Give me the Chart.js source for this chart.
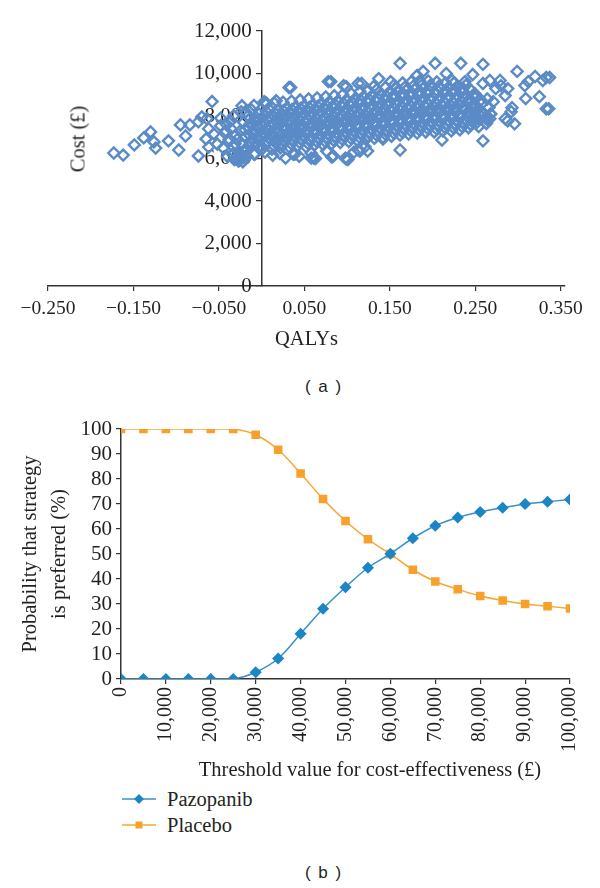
<!DOCTYPE html>
<html>
<head>
<meta charset="utf-8">
<script src="https://cdn.jsdelivr.net/npm/chart.js@4.4.0/dist/chart.umd.min.js"></script>
<style>
  body { margin: 0; background: #fff; }
  #page { position: relative; width: 600px; height: 888px; font-family: "Liberation Serif", "DejaVu Serif", serif; color: #231f20; }
  .box { position: absolute; left: 0; width: 600px; }
  .caption { position: absolute; font-family: "Liberation Sans", Arial, sans-serif; font-size: 17px; word-spacing: 3px; transform: translate(-50%, -50%); white-space: nowrap; }
  .label { position: absolute; font-family: "Liberation Serif", serif; font-size: 20.5px; white-space: nowrap; transform: translate(-50%, -50%); }
  .legend-item { position: absolute; left: 122px; height: 24px; display: flex; align-items: center; font-family: "Liberation Serif", serif; font-size: 20.5px; }
  .legend-item svg { margin-right: 11px; }
</style>
</head>
<body>
<div id="page">
  <div class="box" style="top:0; height:352px;"><canvas id="chartA"></canvas></div>
  <div class="label" style="left:78px; top:139px; transform: translate(-50%, -50%) rotate(-90deg);">Cost (£)</div>
  <div class="caption" style="left:323px; top:387px;">( a )</div>

  <div class="box" style="top:395px; height:370px;"><canvas id="chartB"></canvas></div>
  <div class="label" style="left:370px; top:769px;">Threshold value for cost-effectiveness (£)</div>
  <div id="legend"></div>
  <div class="caption" style="left:323px; top:873px;">( b )</div>
</div>

<script>
// (a) simulated incremental QALYs / costs
const simPoints = [
  // far left tail
  [-0.173, 6260], [-0.162, 6160], [-0.149, 6640], [-0.138, 6970], [-0.130, 7250], [-0.126, 6780],
  [-0.124, 6490], [-0.109, 6830], [-0.097, 6400], [-0.095, 7580], [-0.089, 7060], [-0.084, 7580],
  [-0.074, 7730], [-0.074, 6120], [-0.070, 7960], [-0.065, 6920], [-0.064, 7870], [-0.062, 7400],
  [-0.058, 8680], [-0.062, 6540], [-0.056, 7160], [-0.052, 6680], [-0.048, 7540], [-0.042, 7300],
  [-0.039, 6780], [-0.036, 7770], [-0.033, 6540], [-0.030, 5970], [-0.027, 5880], [-0.023, 8480],
  [-0.019, 8200], [-0.013, 7630], [-0.007, 7960], [-0.009, 6210], [0.003, 8670],
  // just left of zero
  [-0.048, 7900], [-0.045, 6500], [-0.043, 7200], [-0.040, 6100], [-0.041, 7600], [-0.038, 6900],
  [-0.036, 7400], [-0.034, 6200], [-0.033, 8000], [-0.031, 6700], [-0.030, 7100], [-0.032, 5950], [-0.029, 6050],
  [-0.027, 5900], [-0.024, 6000], [-0.022, 5850], [-0.026, 6300], [-0.023, 6700], [-0.025, 7300],
  [-0.021, 7700], [-0.024, 8200], [-0.020, 6400], [-0.019, 7000],
  [-0.017, 6100], [-0.015, 6600], [-0.014, 7100], [-0.016, 7500], [-0.013, 7900], [-0.012, 8300],
  [-0.011, 6900], [-0.010, 7300],
  [-0.008, 6200], [-0.006, 6700], [-0.005, 7000], [-0.004, 7400], [-0.007, 7800], [-0.003, 8100],
  [-0.002, 6500], [-0.001, 7600], [-0.009, 8500],
  [-0.0255, 6150], [-0.0215, 6050], [-0.0175, 6450], [-0.0135, 6800], [-0.0095, 7150], [-0.0055, 7500],
  [-0.0015, 7050], [-0.0035, 6850], [-0.0115, 7650], [-0.0195, 7350], [-0.0285, 6900],
  // main cloud
  [0.002, 6500], [0.006, 6800], [0.003, 7050], [0.008, 7300], [0.001, 7550], [0.007, 7800], [0.004, 8050], [0.009, 8300], [0.005, 8550], [0.010, 7150], [0.004, 6300],
  [0.012, 6450], [0.016, 6750], [0.013, 7000], [0.018, 7250], [0.011, 7500], [0.017, 7750], [0.014, 8000], [0.019, 8250], [0.015, 8600], [0.020, 6600], [0.013, 6150],
  [0.022, 6500], [0.026, 6800], [0.023, 7100], [0.028, 7350], [0.021, 7600], [0.027, 7850], [0.024, 8100], [0.029, 8350], [0.025, 8650], [0.030, 7000], [0.021, 6250],
  [0.032, 6550], [0.036, 6850], [0.033, 7100], [0.038, 7350], [0.031, 7650], [0.037, 7900], [0.034, 8150], [0.039, 8400], [0.035, 8700], [0.040, 7550], [0.037, 6200],
  [0.042, 6600], [0.046, 6900], [0.043, 7150], [0.048, 7400], [0.041, 7700], [0.047, 7950], [0.044, 8200], [0.049, 8450], [0.045, 8750], [0.050, 7250], [0.044, 6100],
  [0.052, 6550], [0.056, 6850], [0.053, 7150], [0.058, 7450], [0.051, 7700], [0.057, 8000], [0.054, 8250], [0.059, 8500], [0.055, 8800], [0.060, 7600], [0.058, 6250],
  [0.062, 6650], [0.066, 6950], [0.063, 7200], [0.068, 7500], [0.061, 7750], [0.067, 8050], [0.064, 8300], [0.069, 8550], [0.065, 8850], [0.070, 7350], [0.063, 6000],
  [0.072, 6650], [0.076, 6950], [0.073, 7250], [0.078, 7550], [0.071, 7800], [0.077, 8100], [0.074, 8350], [0.079, 8650], [0.075, 8900], [0.080, 7700], [0.076, 6350],
  [0.082, 6700], [0.086, 7000], [0.083, 7300], [0.088, 7600], [0.081, 7850], [0.087, 8150], [0.084, 8400], [0.089, 8700], [0.085, 8950], [0.090, 7450], [0.083, 6100],
  [0.092, 6750], [0.096, 7050], [0.093, 7350], [0.098, 7650], [0.091, 7900], [0.097, 8200], [0.094, 8450], [0.099, 8750], [0.095, 9000], [0.100, 7800], [0.101, 5950],
  [0.102, 6800], [0.106, 7100], [0.103, 7400], [0.108, 7700], [0.101, 7950], [0.107, 8250], [0.104, 8500], [0.109, 8800], [0.105, 9050], [0.110, 7550], [0.108, 6300],
  [0.112, 6850], [0.116, 7150], [0.113, 7450], [0.118, 7750], [0.111, 8000], [0.117, 8300], [0.114, 8600], [0.119, 8900], [0.115, 9150], [0.120, 7900], [0.113, 6400],
  [0.122, 6900], [0.126, 7200], [0.123, 7500], [0.128, 7800], [0.121, 8050], [0.127, 8350], [0.124, 8650], [0.129, 8950], [0.125, 9200], [0.130, 7650], [0.121, 6550],
  [0.132, 6950], [0.136, 7250], [0.133, 7550], [0.138, 7850], [0.131, 8100], [0.137, 8400], [0.134, 8700], [0.139, 9000], [0.135, 9250], [0.140, 8000],
  [0.142, 7000], [0.146, 7300], [0.143, 7600], [0.148, 7900], [0.141, 8200], [0.147, 8500], [0.144, 8800], [0.149, 9100], [0.145, 9350], [0.150, 7750],
  [0.152, 7050], [0.156, 7350], [0.153, 7650], [0.158, 7950], [0.151, 8250], [0.157, 8550], [0.154, 8850], [0.159, 9150], [0.155, 9450], [0.160, 8100],
  [0.162, 7100], [0.166, 7400], [0.163, 7700], [0.168, 8000], [0.161, 8300], [0.167, 8600], [0.164, 8900], [0.169, 9200], [0.165, 9550], [0.170, 7850],
  [0.172, 7150], [0.176, 7450], [0.173, 7750], [0.178, 8050], [0.171, 8350], [0.177, 8650], [0.174, 8950], [0.179, 9250], [0.175, 9600], [0.180, 8200],
  [0.182, 7200], [0.186, 7500], [0.183, 7800], [0.188, 8100], [0.181, 8400], [0.187, 8700], [0.184, 9000], [0.189, 9300], [0.185, 9650], [0.190, 7950],
  [0.192, 7250], [0.196, 7550], [0.193, 7850], [0.198, 8150], [0.191, 8450], [0.197, 8750], [0.194, 9050], [0.199, 9350], [0.195, 9650], [0.200, 8300],
  [0.202, 7250], [0.206, 7550], [0.203, 7850], [0.208, 8150], [0.201, 8450], [0.207, 8750], [0.204, 9050], [0.209, 9300], [0.205, 9600], [0.210, 8000],
  [0.212, 7300], [0.216, 7600], [0.213, 7900], [0.218, 8200], [0.211, 8500], [0.217, 8800], [0.214, 9100], [0.219, 9350], [0.215, 9550], [0.220, 8350],
  [0.222, 7300], [0.226, 7600], [0.223, 7900], [0.228, 8200], [0.221, 8500], [0.227, 8800], [0.224, 9100], [0.229, 9350], [0.225, 9550], [0.230, 8050],
  [0.232, 7350], [0.236, 7650], [0.233, 7950], [0.238, 8250], [0.231, 8550], [0.237, 8850], [0.234, 9150], [0.239, 9450], [0.235, 8400], [0.240, 7800],
  [0.242, 7450], [0.246, 7750], [0.243, 8050], [0.248, 8350], [0.241, 8650], [0.247, 8950], [0.244, 9250], [0.249, 8150], [0.245, 7600],
  [0.252, 7700], [0.256, 8000], [0.253, 8300], [0.258, 8600], [0.251, 8900], [0.257, 8150], [0.254, 7500],
  [0.262, 7900], [0.266, 8400], [0.264, 8800], [0.268, 8100], [0.263, 7650],
  // dense core of the cloud
  [0.0045, 6650], [0.0085, 6950], [0.0015, 7200], [0.0065, 7450], [0.0035, 7700], [0.0095, 7950], [0.0055, 8200],
  [0.0145, 6600], [0.0185, 6900], [0.0115, 7150], [0.0165, 7400], [0.0135, 7650], [0.0195, 7900], [0.0155, 8150],
  [0.0245, 6650], [0.0285, 6950], [0.0215, 7250], [0.0265, 7500], [0.0235, 7750], [0.0295, 8000], [0.0255, 8250],
  [0.0345, 6700], [0.0385, 7000], [0.0315, 7250], [0.0365, 7500], [0.0335, 7800], [0.0395, 8050], [0.0355, 8300],
  [0.0445, 6750], [0.0485, 7050], [0.0415, 7300], [0.0465, 7550], [0.0435, 7850], [0.0495, 8100], [0.0455, 8350],
  [0.0545, 6700], [0.0585, 7000], [0.0515, 7300], [0.0565, 7600], [0.0535, 7850], [0.0595, 8150], [0.0555, 8400],
  [0.0645, 6800], [0.0685, 7100], [0.0615, 7350], [0.0665, 7650], [0.0635, 7900], [0.0695, 8200], [0.0655, 8450],
  [0.0745, 6800], [0.0785, 7100], [0.0715, 7400], [0.0765, 7700], [0.0735, 7950], [0.0795, 8250], [0.0755, 8500],
  [0.0845, 6850], [0.0885, 7150], [0.0815, 7450], [0.0865, 7750], [0.0835, 8000], [0.0895, 8300], [0.0855, 8550],
  [0.0945, 6900], [0.0985, 7200], [0.0915, 7500], [0.0965, 7800], [0.0935, 8050], [0.0995, 8350], [0.0955, 8600],
  [0.1045, 6950], [0.1085, 7250], [0.1015, 7550], [0.1065, 7850], [0.1035, 8100], [0.1095, 8400], [0.1055, 8650],
  [0.1145, 7000], [0.1185, 7300], [0.1115, 7600], [0.1165, 7900], [0.1135, 8150], [0.1195, 8450], [0.1155, 8750],
  [0.1245, 7050], [0.1285, 7350], [0.1215, 7650], [0.1265, 7950], [0.1235, 8200], [0.1295, 8500], [0.1255, 8800],
  [0.1345, 7100], [0.1385, 7400], [0.1315, 7700], [0.1365, 8000], [0.1335, 8250], [0.1395, 8550], [0.1355, 8850],
  [0.1445, 7150], [0.1485, 7450], [0.1415, 7750], [0.1465, 8050], [0.1435, 8350], [0.1495, 8650], [0.1455, 8950],
  [0.1545, 7200], [0.1585, 7500], [0.1515, 7800], [0.1565, 8100], [0.1535, 8400], [0.1595, 8700], [0.1555, 9000], [0.1575, 9300],
  [0.1645, 7250], [0.1685, 7550], [0.1615, 7850], [0.1665, 8150], [0.1635, 8450], [0.1695, 8750], [0.1655, 9050], [0.1675, 9350],
  [0.1745, 7300], [0.1785, 7600], [0.1715, 7900], [0.1765, 8200], [0.1735, 8500], [0.1795, 8800], [0.1755, 9100], [0.1775, 9400],
  [0.1845, 7350], [0.1885, 7650], [0.1815, 7950], [0.1865, 8250], [0.1835, 8550], [0.1895, 8850], [0.1855, 9150], [0.1875, 9450],
  [0.1945, 7400], [0.1985, 7700], [0.1915, 8000], [0.1965, 8300], [0.1935, 8600], [0.1995, 8900], [0.1955, 9200], [0.1975, 9450],
  [0.2045, 7400], [0.2085, 7700], [0.2015, 8000], [0.2065, 8300], [0.2035, 8600], [0.2095, 8900], [0.2055, 9200], [0.2075, 9400],
  [0.2145, 7450], [0.2185, 7750], [0.2115, 8050], [0.2165, 8350], [0.2135, 8650], [0.2195, 8950], [0.2155, 9200],
  [0.2245, 7450], [0.2285, 7750], [0.2215, 8050], [0.2265, 8350], [0.2235, 8650], [0.2295, 8950], [0.2255, 9200],
  [0.2345, 7500], [0.2385, 7800], [0.2315, 8100], [0.2365, 8400], [0.2335, 8700], [0.2395, 9000], [0.2355, 9300],
  [0.2445, 7600], [0.2485, 7900], [0.2415, 8200], [0.2465, 8500], [0.2435, 8800], [0.2495, 9050],
  [0.2545, 7850], [0.2585, 8150], [0.2515, 8450], [0.2565, 8750],
  // scattered above / below the cloud
  [0.005, 8630], [0.017, 8720], [0.032, 9340], [0.034, 9340], [0.078, 9620], [0.081, 9620], [0.096, 9430],
  [0.099, 9380], [0.113, 9530], [0.117, 9530], [0.131, 9380], [0.137, 9760], [0.151, 9620], [0.162, 10480],
  [0.182, 9910], [0.189, 10100], [0.203, 10480], [0.216, 10000], [0.223, 9670], [0.233, 10480], [0.238, 9620],
  [0.247, 9950], [0.259, 10430],
  [0.028, 6020], [0.039, 6210], [0.058, 6020], [0.061, 6020], [0.082, 6070], [0.084, 6120], [0.098, 6020],
  [0.099, 5970], [0.115, 6350], [0.124, 6350], [0.142, 6920], [0.162, 6400], [0.211, 6870], [0.259, 6830],
  // right tail
  [0.267, 7870], [0.268, 8100], [0.271, 8670], [0.263, 7960], [0.264, 7820], [0.259, 9530], [0.267, 9670],
  [0.274, 9290], [0.279, 9670], [0.280, 9430], [0.285, 8960], [0.285, 7870], [0.288, 9290], [0.288, 7770],
  [0.292, 8200], [0.293, 8390], [0.296, 7630], [0.299, 10100], [0.308, 9430], [0.309, 8820], [0.312, 9620],
  [0.320, 9860], [0.325, 8910], [0.329, 9670], [0.333, 9810], [0.333, 8340], [0.337, 9810], [0.336, 8340]
];
const qalyTicks = [-0.25, -0.15, -0.05, 0.05, 0.15, 0.25, 0.35];

// (b) cost-effectiveness acceptability curves
const thresholds = [0, 5000, 10000, 15000, 20000, 25000, 30000, 35000, 40000, 45000, 50000,
  55000, 60000, 65000, 70000, 75000, 80000, 85000, 90000, 95000, 100000];
const pazopanibProb = [0, 0, 0, 0, 0, 0, 2.7, 8.2, 18.1, 28.1, 36.7, 44.5, 50.1, 56.3, 61.3, 64.6, 66.8, 68.5, 70.0, 70.9, 71.8];
const placeboProb = [100, 100, 100, 100, 100, 100, 97.7, 91.7, 82.2, 72.0, 63.2, 55.9, 50.0, 43.7, 39.0, 35.9, 33.2, 31.4, 30.0, 29.1, 28.2];

const ink = '#231f20';
const serif = '"Liberation Serif", "DejaVu Serif", serif';
const axisLine = { color: '#333', width: 1.5 };
const tickMarks = { drawOnChartArea: false, tickLength: 5, color: '#333', lineWidth: 1.2 };

Chart.defaults.color = ink;
Chart.defaults.font.family = serif;

// the y axis of (a) sits at x = 0 and chart.js puts its labels right on the line; nudge them left
const nudgeCostLabels = {
  id: 'nudgeCostLabels',
  beforeDraw(chart) {
    const scale = chart.scales.y;
    scale.getLabelItems().forEach(item => {
      if (!item._nudged) {
        item.options.translation[0] -= 10;
        item._nudged = true;
      }
    });
  }
};

new Chart(document.getElementById('chartA'), {
  type: 'scatter',
  data: {
    datasets: [{
      data: simPoints.map(p => ({ x: p[0], y: p[1] })),
      pointStyle: 'rectRot',
      pointRadius: 5.5,
      pointBorderWidth: 2.4,
      borderColor: '#5b8bc7',
      backgroundColor: 'rgba(0,0,0,0)'
    }]
  },
  plugins: [nudgeCostLabels],
  options: {
    responsive: true,
    maintainAspectRatio: false,
    animation: false,
    devicePixelRatio: 1,
    layout: { padding: { left: 48, right: 35, top: 31, bottom: 0 } },
    plugins: { legend: { display: false }, tooltip: { enabled: false } },
    scales: {
      x: {
        type: 'linear',
        min: -0.25,
        max: 0.355,
        afterBuildTicks: scale => { scale.ticks = qalyTicks.map(v => ({ value: v })); },
        afterFit: scale => { scale.height = 66; },
        ticks: {
          font: { family: serif, size: 19.5 },
          padding: 6,
          maxRotation: 0,
          callback: v => (v < 0 ? '\u2212' : '') + Math.abs(v).toFixed(3)
        },
        grid: tickMarks,
        border: axisLine,
        title: { display: true, text: 'QALYs', font: { family: serif, size: 20.5, lineHeight: 1.2 }, padding: 0 }
      },
      y: {
        type: 'linear',
        position: { x: 0 },
        z: 1,
        min: 0,
        max: 12000,
        ticks: {
          stepSize: 2000,
          autoSkip: false,
          font: { family: serif, size: 21 },
          callback: v => v.toLocaleString('en-US')
        },
        grid: tickMarks,
        border: axisLine
      }
    }
  }
});

new Chart(document.getElementById('chartB'), {
  type: 'line',
  data: {
    datasets: [{
      label: 'Pazopanib',
      data: thresholds.map((t, i) => ({ x: t, y: pazopanibProb[i] })),
      borderColor: '#3a8fc9',
      borderWidth: 1.5,
      pointStyle: 'rectRot',
      pointRadius: 5,
      pointBackgroundColor: '#1a86c6',
      pointBorderColor: '#1a86c6',
      tension: 0.4
    }, {
      label: 'Placebo',
      data: thresholds.map((t, i) => ({ x: t, y: placeboProb[i] })),
      borderColor: '#f6a631',
      borderWidth: 1.5,
      pointStyle: 'rect',
      pointRadius: 5,
      pointBackgroundColor: '#f7a12c',
      pointBorderColor: '#f7a12c',
      tension: 0.4
    }]
  },
  options: {
    responsive: true,
    maintainAspectRatio: false,
    animation: false,
    devicePixelRatio: 1,
    layout: { padding: { left: 16, right: 30, top: 34, bottom: 0 } },
    plugins: { legend: { display: false }, tooltip: { enabled: false } },
    scales: {
      x: {
        type: 'linear',
        min: 0,
        max: 100000,
        afterFit: scale => { scale.height = 86; },
        ticks: {
          stepSize: 10000,
          autoSkip: false,
          minRotation: 90,
          maxRotation: 90,
          font: { family: serif, size: 20 },
          padding: 3,
          callback: v => v.toLocaleString('en-US')
        },
        grid: tickMarks,
        border: axisLine
      },
      y: {
        min: 0,
        max: 100,
        afterFit: scale => { scale.width = 121 - 16; },
        ticks: { stepSize: 10, autoSkip: false, font: { family: serif, size: 21 }, padding: 4 },
        grid: tickMarks,
        border: axisLine,
        title: {
          display: true,
          text: ['Probability that strategy', 'is preferred (%)'],
          font: { family: serif, size: 20.5, lineHeight: 1.42 },
          padding: 0
        }
      }
    }
  }
});

// legend drawn as html below chart (b)
const legendEl = document.getElementById('legend');
[
  { name: 'Pazopanib', line: '#3a8fc9', fill: '#1a86c6', shape: 'diamond', top: 787 },
  { name: 'Placebo', line: '#f6a631', fill: '#f7a12c', shape: 'square', top: 813 }
].forEach(item => {
  const marker = item.shape === 'diamond'
    ? `<polygon points="17,7 22,12 17,17 12,12" fill="${item.fill}"/>`
    : `<rect x="13.5" y="8.5" width="7" height="7" fill="${item.fill}"/>`;
  const row = document.createElement('div');
  row.className = 'legend-item';
  row.style.top = item.top + 'px';
  row.innerHTML = `<svg width="34" height="24"><line x1="0" y1="12" x2="34" y2="12" stroke="${item.line}" stroke-width="1.5"/>${marker}</svg><span>${item.name}</span>`;
  legendEl.appendChild(row);
});
</script>
</body>
</html>
